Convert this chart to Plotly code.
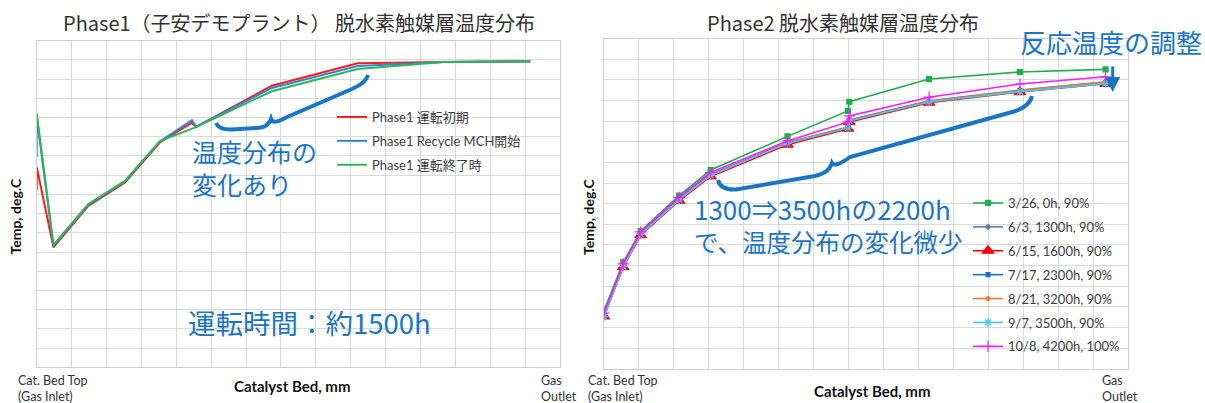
import plotly.graph_objects as go

W, H = 1205, 403

# ---------------- data: Phase1 (left) ----------------
p1_x_mm = [0, 0, 48, 148, 253, 353, 445, 457, 674, 920, 1167, 1415]
p1_names = ["Phase1 運転初期", "Phase1 Recycle MCH開始", "Phase1 運転終了時"]
p1_start = [292.3, 304.3, 262.5, 284.0, 296.2, 317.0, 327.3, 325.1, 346.6, 358.3, 358.9, 359.2]
p1_recycle = [309.5, 330.3, 263.1, 284.5, 296.7, 317.5, 328.6, 325.3, 345.4, 356.8, 358.9, 359.2]
p1_end = [332.4, 332.4, 263.7, 285.0, 297.0, 317.8, 324.5, 325.0, 343.7, 355.3, 358.9, 359.4]

# ---------------- data: Phase2 (right) ----------------
p2_x_mm = [0, 55, 105, 215, 305, 525, 698, 702, 930, 1190, 1435]
p2_names = ["3/26, 0h, 90%", "6/3, 1300h, 90%", "6/15, 1600h, 90%", "7/17, 2300h, 90%",
            "8/21, 3200h, 90%", "9/7, 3500h, 90%", "10/8, 4200h, 100%"]
p2_0326 = [228.1, 251.6, 266.7, 283.9, 296.3, 312.6, 324.9, 329.4, 340.4, 343.8, 345.1]
p2_0603 = [226.0, 250.0, 265.5, 282.3, 294.1, 309.6, 317.2, 320.6, 329.8, 335.1, 339.1]
p2_0615 = [225.3, 249.2, 264.7, 281.4, 293.2, 308.6, 316.3, 319.6, 328.9, 334.1, 338.1]
p2_0717 = [225.8, 249.8, 265.3, 282.0, 293.9, 309.4, 316.9, 320.3, 329.5, 334.6, 338.7]
p2_0821 = [225.9, 249.7, 265.2, 282.1, 293.8, 309.5, 317.0, 320.4, 329.6, 334.8, 338.9]
p2_0907 = [225.1, 249.5, 265.1, 281.8, 293.7, 309.2, 316.7, 320.1, 329.3, 334.3, 338.2]
p2_1008 = [227.0, 250.8, 266.3, 283.0, 295.1, 310.4, 319.6, 322.5, 331.6, 338.0, 341.5]

x_range = [0, 1500]
y1_range = [200, 370]
y2_range = [200, 360]

# ---------------- layout geometry (pixels) ----------------
L_BOX = (36.7, 560.0, 40.7, 367.3)   # left, right, top, bottom
R_BOX = (604.0, 1128.3, 38.6, 368.7)

def pxx(x):
    return x / W

def pxy(y):
    return 1 - y / H

def to_data(box, yr, x, y):
    l, r, t, b = box
    dx = x_range[0] + (x - l) / (r - l) * (x_range[1] - x_range[0])
    dy = yr[0] + (b - y) / (b - t) * (yr[1] - yr[0])
    return dx, dy

def path(box, yr, cmds):
    out = []
    for c in cmds:
        op, pts = c[0], c[1:]
        s = op
        for i in range(0, len(pts), 2):
            dx, dy = to_data(box, yr, pts[i], pts[i + 1])
            s += " %.2f,%.3f" % (dx, dy)
        out.append(s)
    return " ".join(out)

CJK = "Noto Sans CJK JP"
LAT = "Lato, Noto Sans CJK JP"
BLUE = "#1b75c7"
GRID = "#d9d9d9"

fig = go.Figure()

# ---- Phase1 traces
p1_colors = ["#ff1a1a", "#2f86d3", "#2fb553"]
for name, vals, col in zip(p1_names, [p1_start, p1_recycle, p1_end], p1_colors):
    fig.add_trace(go.Scatter(x=p1_x_mm, y=vals, name=name, mode="lines",
                             line=dict(color=col, width=2.0),
                             xaxis="x", yaxis="y", legend="legend",
                             legendgroup=name))

# ---- Phase2 traces
p2_series = [p2_0326, p2_0603, p2_0615, p2_0717, p2_0821, p2_0907, p2_1008]
p2_colors = ["#1fae4e", "#5a7fb0", "#ff0000", "#1f6fc0", "#ed7d31", "#45c6f2", "#ff1aff"]
p2_markers = [
    dict(symbol="square", size=5),
    dict(symbol="diamond", size=4),
    dict(symbol="triangle-up", size=10),
    dict(symbol="square", size=4),
    dict(symbol="circle", size=4),
    dict(symbol="asterisk-open", size=7),
    dict(symbol="cross-thin-open", size=8),
]
for name, vals, col, mk in zip(p2_names, p2_series, p2_colors, p2_markers):
    m = dict(mk)
    m["color"] = col
    m["line"] = dict(color=col, width=1.2)
    fig.add_trace(go.Scatter(x=p2_x_mm, y=vals, name=name, mode="lines+markers",
                             line=dict(color=col, width=1.6), marker=m,
                             xaxis="x2", yaxis="y2", legend="legend2",
                             legendgroup=name))

ax_common = dict(showticklabels=False, ticks="", showgrid=True, gridcolor=GRID,
                 gridwidth=1.2, zeroline=False, showline=True, mirror=True,
                 linecolor="#d0d0d0", linewidth=1.2, fixedrange=True)

fig.update_layout(
    width=W, height=H, autosize=False,
    margin=dict(l=0, r=0, t=0, b=0),
    paper_bgcolor="white", plot_bgcolor="white",
    xaxis=dict(domain=[pxx(L_BOX[0]), pxx(L_BOX[1])], range=x_range, dtick=100, tick0=0,
               anchor="y", **ax_common),
    yaxis=dict(domain=[pxy(L_BOX[3]), pxy(L_BOX[2])], range=y1_range, dtick=10, tick0=200,
               anchor="x", **ax_common),
    xaxis2=dict(domain=[pxx(R_BOX[0]), pxx(R_BOX[1])], range=x_range, dtick=100, tick0=0,
                anchor="y2", **ax_common),
    yaxis2=dict(domain=[pxy(R_BOX[3]), pxy(R_BOX[2])], range=y2_range, dtick=10, tick0=200,
                anchor="x2", **ax_common),
    legend=dict(x=pxx(332), y=pxy(102), xanchor="left", yanchor="top",
                bgcolor="rgba(0,0,0,0)", itemwidth=30, tracegroupgap=4,
                font=dict(family=LAT, size=13, color="#404040")),
    legend2=dict(x=pxx(968), y=pxy(188), xanchor="left", yanchor="top",
                 bgcolor="rgba(0,0,0,0)", itemwidth=30, tracegroupgap=4,
                 font=dict(family=LAT, size=13, color="#404040")),
    showlegend=True,
)

shapes = [
    dict(type="rect", xref="paper", yref="paper", x0=pxx(352), x1=pxx(553),
         y0=pxy(178), y1=pxy(104), fillcolor="white", line=dict(width=0), layer="between"),
    dict(type="rect", xref="paper", yref="paper", x0=pxx(980), x1=pxx(1123),
         y0=pxy(358), y1=pxy(190), fillcolor="white", line=dict(width=0), layer="between"),
    dict(type="path", xref="x", yref="y",
         path=path(L_BOX, y1_range, [("M", 216, 123), ("Q", 219, 130, 232, 129.5), ("L", 258, 128),
                                     ("Q", 268, 127.5, 271, 119), ("Q", 273, 125, 286, 117.5),
                                     ("L", 352, 89), ("Q", 366, 83, 368, 75)]),
         line=dict(color=BLUE, width=4), layer="above"),
    dict(type="path", xref="x2", yref="y2",
         path=path(R_BOX, y2_range, [("M", 718, 180), ("Q", 720, 190, 736, 189.5), ("L", 815, 176),
                                     ("Q", 829, 173, 832, 163), ("Q", 835, 168, 850, 157),
                                     ("L", 1014, 111.5), ("Q", 1030, 106, 1032, 96)]),
         line=dict(color=BLUE, width=4), layer="above"),
]
fig.update_layout(shapes=shapes)

def ann(text, x, y, size, color="#404040", family=CJK, xanchor="center", yanchor="middle",
        angle=0, align="left"):
    return dict(text=text, x=pxx(x), y=pxy(y), xref="paper", yref="paper", showarrow=False,
                xanchor=xanchor, yanchor=yanchor, textangle=angle, align=align,
                font=dict(family=family, size=size, color=color))

anns = [
    ann("Phase1（子安デモプラント） 脱水素触媒層温度分布", 299, 23, 20, "#333333"),
    ann("Phase2 脱水素触媒層温度分布", 842.5, 23, 20, "#333333"),
    ann("温度分布の<br>変化あり", 190, 168, 25, BLUE, xanchor="left"),
    ann("運転時間：約1500h", 186, 322, 27.5, BLUE, xanchor="left"),
    ann("<span style='font-size:26px'>1300⇒3500hの2200h</span><br>で、温度分布の変化微少",
        692, 224, 24.5, BLUE, xanchor="left"),
    ann("反応温度の調整", 1018, 42, 26, BLUE, xanchor="left"),
    ann("<b>Temp, deg.C</b>", 14.5, 217, 14, "#111111", LAT, angle=-90),
    ann("<b>Temp, deg.C</b>", 588, 217, 14, "#111111", LAT, angle=-90),
    ann("<b>Catalyst Bed, mm</b>", 292, 386, 15, "#111111", LAT),
    ann("<b>Catalyst Bed, mm</b>", 872, 391, 15, "#111111", LAT),
    ann("Cat. Bed Top<br>(Gas Inlet)", 16, 388, 12.5, "#333333", LAT, xanchor="left"),
    ann("Gas<br>Outlet", 539, 388, 12.5, "#333333", LAT, xanchor="left"),
    ann("Cat. Bed Top<br>(Gas Inlet)", 586, 388, 12.5, "#333333", LAT, xanchor="left"),
    ann("Gas<br>Outlet", 1100, 388, 12.5, "#333333", LAT, xanchor="left"),
    dict(text="", x=pxx(1112.7), y=pxy(92), xref="paper", yref="paper", showarrow=True,
         ax=0, ay=-27, arrowhead=2, arrowsize=1, arrowwidth=3, arrowcolor=BLUE),
]
fig.update_layout(annotations=anns)

fig.write_html("out.html", config={"displayModeBar": False},
               post_script="document.body.style.margin='0px';")
